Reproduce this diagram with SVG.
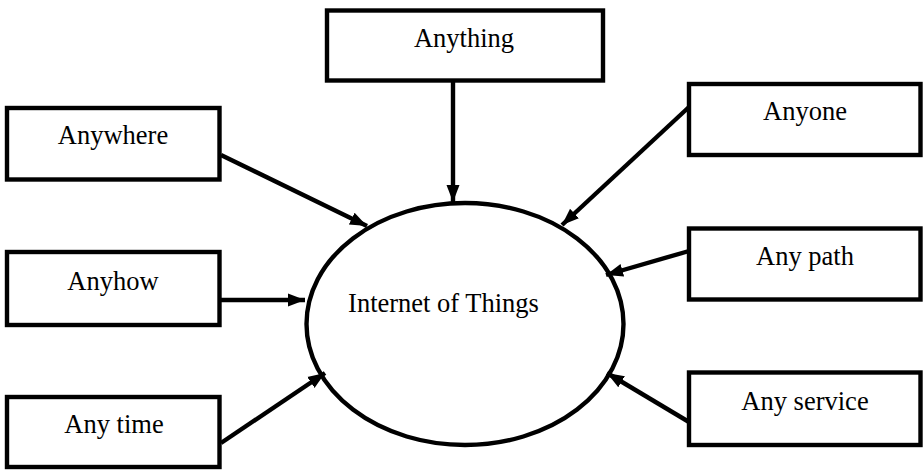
<svg xmlns="http://www.w3.org/2000/svg" width="923" height="470" viewBox="0 0 923 470">
<style>
.box{fill:#fff;stroke:#000;stroke-width:4.4}
.lbl{font-family:"Liberation Serif","Times New Roman",serif;font-size:26.5px;fill:#000;text-anchor:middle}
.conn{stroke:#000;stroke-width:4.4;fill:none}
</style>
<defs>
<marker id="ah" markerUnits="userSpaceOnUse" markerWidth="18" markerHeight="16" viewBox="0 0 18 16" refX="17" refY="8" orient="auto">
<path d="M0,1.5 L17,8 L0,14.5 Z" fill="#000"/>
</marker>
</defs>
<rect width="923" height="470" fill="#fff"/>
<g id="connectors">
<line class="conn" x1="453" y1="82" x2="453" y2="202" marker-end="url(#ah)"/>
<line class="conn" x1="221" y1="155" x2="367" y2="226" marker-end="url(#ah)"/>
<line class="conn" x1="689" y1="107" x2="562" y2="225" marker-end="url(#ah)"/>
<line class="conn" x1="689" y1="251" x2="606" y2="275" marker-end="url(#ah)"/>
<line class="conn" x1="689" y1="422" x2="607" y2="373" marker-end="url(#ah)"/>
<line class="conn" x1="221" y1="300" x2="305" y2="300" marker-end="url(#ah)"/>
<line class="conn" x1="221" y1="443" x2="325" y2="373" marker-end="url(#ah)"/>
</g>
<g id="iot">
<ellipse cx="465" cy="324" rx="158.5" ry="121" fill="none" stroke="#000" stroke-width="4.4"/>
<text class="lbl" x="443.5" y="312">Internet of Things</text>
</g>
<g id="anything">
<rect class="box" x="327" y="10.5" width="276" height="70"/>
<text class="lbl" x="464" y="47">Anything</text>
</g>
<g id="anywhere">
<rect class="box" x="7" y="108" width="212.5" height="71.5"/>
<text class="lbl" x="113" y="144">Anywhere</text>
</g>
<g id="anyone">
<rect class="box" x="689" y="84" width="231.5" height="71"/>
<text class="lbl" x="805" y="120">Anyone</text>
</g>
<g id="anypath">
<rect class="box" x="689" y="228.5" width="231.5" height="71"/>
<text class="lbl" x="805" y="265">Any path</text>
</g>
<g id="anyhow">
<rect class="box" x="7" y="252" width="212.5" height="73"/>
<text class="lbl" x="113" y="290">Anyhow</text>
</g>
<g id="anyservice">
<rect class="box" x="689" y="372.5" width="231.5" height="72.5"/>
<text class="lbl" x="805" y="410">Any service</text>
</g>
<g id="anytime">
<rect class="box" x="7" y="397" width="212.5" height="70"/>
<text class="lbl" x="114" y="433">Any time</text>
</g>
</svg>
